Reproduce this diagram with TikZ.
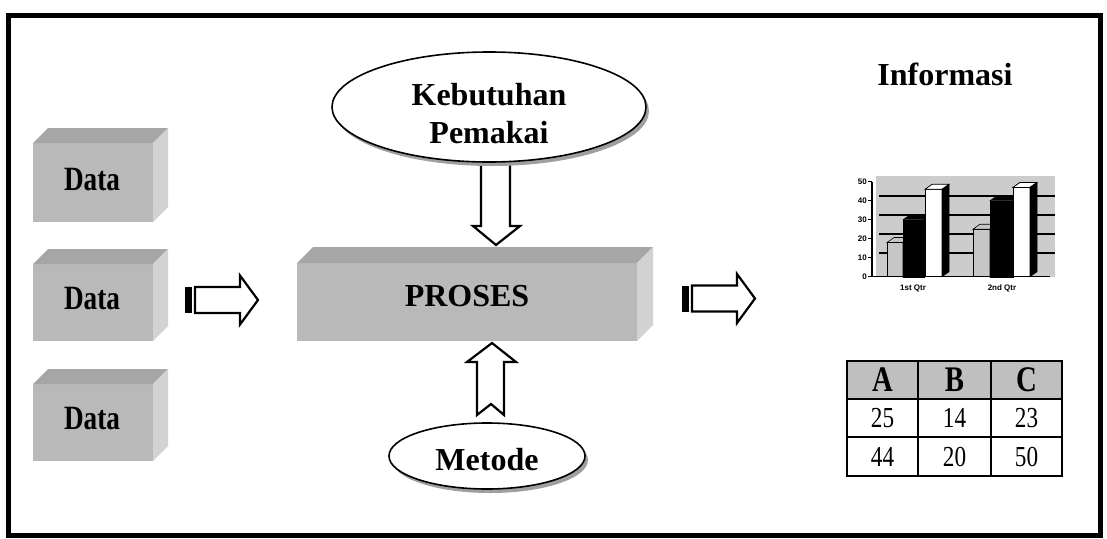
\documentclass[tikz,border=0pt]{standalone}
\usepackage{fontspec}
\setmainfont{Liberation Serif}
\setsansfont{Liberation Sans}
\newfontfamily\sempit[FakeStretch=0.8]{Liberation Serif}
\usetikzlibrary{shapes.geometric,shadows}

\tikzset{
  mukadepan/.style={fill=gray!55},
  mukaatas/.style={fill=gray!70},
  mukasamping/.style={fill=gray!35},
  panah/.style={draw=black,line width=2.2pt,fill=white,line join=miter},
  elips/.style={ellipse,draw=black,line width=1.6pt,fill=white,inner sep=0pt,
    align=center,font=\bfseries\fontsize{32}{38}\selectfont,
    drop shadow={shadow xshift=3pt,shadow yshift=-4pt,fill=gray!75,opacity=1}},
  labeldata/.style={font=\sempit\bfseries\fontsize{34}{34}\selectfont,inner sep=0pt},
  judul/.style={font=\bfseries\fontsize{32}{32}\selectfont,inner sep=0pt},
  dinding/.style={fill=gray!40},
  garisgrid/.style={line width=1.6pt},
  sisibatang/.style={fill=black,draw=black,line width=0.6pt},
  labelgrafik/.style={font=\sffamily\bfseries\fontsize{8}{8}\selectfont,inner sep=1pt},
  kepala/.style={fill=gray!50},
  garistabel/.style={line width=1.2pt},
  selkepala/.style={font=\sempit\bfseries\fontsize{36}{36}\selectfont,inner sep=0pt},
  selangka/.style={font=\sempit\fontsize{29}{29}\selectfont,inner sep=0pt}
}

% balok 3D: x1,y1 (kiri atas), x2,y2 (kanan bawah), kedalaman
\newcommand\balok[5]{%
  \fill[mukadepan] (#1,#2+#5) rectangle (#3-#5,#4);
  \fill[mukaatas] (#1,#2+#5) -- (#1+#5,#2) -- (#3,#2) -- (#3-#5,#2+#5) -- cycle;
  \fill[mukasamping] (#3-#5,#2+#5) -- (#3,#2) -- (#3,#4-#5) -- (#3-#5,#4) -- cycle;
}

% panah bergaris ke kanan, #1 = titik ekor
\newcommand\panahkanan[1]{%
  \fill (#1) ++(0,-13) rectangle ++(7,26);
  \draw[panah] (#1) ++(10,-13) -- ++(45,0) -- ++(0,-11.5) -- ++(18,24.5)
    -- ++(-18,24.5) -- ++(0,-11.5) -- ++(-45,0) -- cycle;
}

% batang grafik 3D: x, lebar, nilai, gaya
\newcommand\batang[4]{%
  \pgfmathsetmacro\ytop{276.7-1.9*#3}
  \filldraw[#4] (#1,276.7) rectangle (#1+#2,\ytop);
  \filldraw[#4] (#1,\ytop) -- ++(7,-5) -- ++(#2,0) -- (#1+#2,\ytop) -- cycle;
  \filldraw[sisibatang] (#1+#2,276.7) -- (#1+#2,\ytop) -- ++(7,-5) -- ++(0,{1.9*#3}) -- cycle;
}

\begin{document}
\begin{tikzpicture}[x=1pt,y=-1pt]
  \useasboundingbox (0,0) rectangle (1107,538);
  \draw[line width=5pt] (8,15.5) rectangle (1100,535.5);

  % data
  \balok{33}{128}{168}{222}{15}
  \balok{33}{249}{168}{341}{15}
  \balok{33}{369}{168}{461}{15}
  \node[labeldata] (data1) at (92,180) {Data};
  \node[labeldata] (data2) at (92,299) {Data};
  \node[labeldata] (data3) at (92,419) {Data};

  % proses
  \balok{297}{247}{653}{341}{16}
  \node[judul] (proses) at (467,296) {PROSES};

  % panah
  \panahkanan{185,300}
  \panahkanan{682,298.5}
  \draw[panah] (481,150) -- (481,226) -- (473,226) -- (496,245) -- (520,226)
    -- (510,226) -- (510,150) -- cycle;
  \draw[panah] (492,343) -- (516,362) -- (504,362) -- (504,415) -- (491,404)
    -- (477,415) -- (477,362) -- (467,362) -- cycle;

  \node[elips,minimum width=314pt,minimum height=110pt] (kebutuhan) at (489,107)
    {\rule{0pt}{35pt}Kebutuhan\\Pemakai};
  \node[elips,minimum width=196pt,minimum height=66pt] (metode) at (487,456)
    {\rule{0pt}{30pt}Metode};

  % informasi
  \node[judul] (informasi) at (945,74) {Informasi};

  % grafik
  \fill[dinding] (876,176) rectangle (1055,277);
  \foreach \v in {10,20,30,40}
    \draw[garisgrid] (879,{271.7-1.9*\v}) -- (1055,{271.7-1.9*\v});
  \draw[line width=1.2pt] (872,{276.7-1.9*50}) -- (872,276.7) -- (1050,276.7);
  \foreach \v in {0,10,...,50} {
    \draw[line width=1pt] (868,{276.7-1.9*\v}) -- (872,{276.7-1.9*\v});
    \node[labelgrafik,anchor=east] (ylab\v) at (868,{276.7-1.9*\v}) {\v};
  }
  \batang{887}{16}{18}{fill=gray!45,draw=black,line width=0.6pt}
  \batang{903}{21}{30}{fill=black,draw=black}
  \batang{925}{17}{46}{fill=white,draw=black,line width=0.8pt}
  \batang{973}{17}{25}{fill=gray!45,draw=black,line width=0.6pt}
  \batang{990}{23}{40}{fill=black,draw=black}
  \batang{1013}{17}{47}{fill=white,draw=black,line width=0.8pt}
  \node[labelgrafik] (qtr1) at (913,288) {1st Qtr};
  \node[labelgrafik] (qtr2) at (1002,288) {2nd Qtr};

  % tabel
  \fill[kepala] (847,361) rectangle (1062,399);
  \draw[garistabel] (847,361) rectangle (1062,476);
  \draw[garistabel] (847,399) -- (1062,399);
  \draw[garistabel] (847,437) -- (1062,437);
  \draw[garistabel] (918,361) -- (918,476);
  \draw[garistabel] (991,361) -- (991,476);
  \foreach \h/\x in {A/882.5,B/954.5,C/1026.5}
    \node[selkepala] (kol\h) at (\x,380) {\h};
  \foreach \a/\x in {25/882.5,14/954.5,23/1026.5}
    \node[selangka] (b1-\a) at (\x,418) {\a};
  \foreach \a/\x in {44/882.5,20/954.5,50/1026.5}
    \node[selangka] (b2-\a) at (\x,456.5) {\a};
\end{tikzpicture}
\end{document}
